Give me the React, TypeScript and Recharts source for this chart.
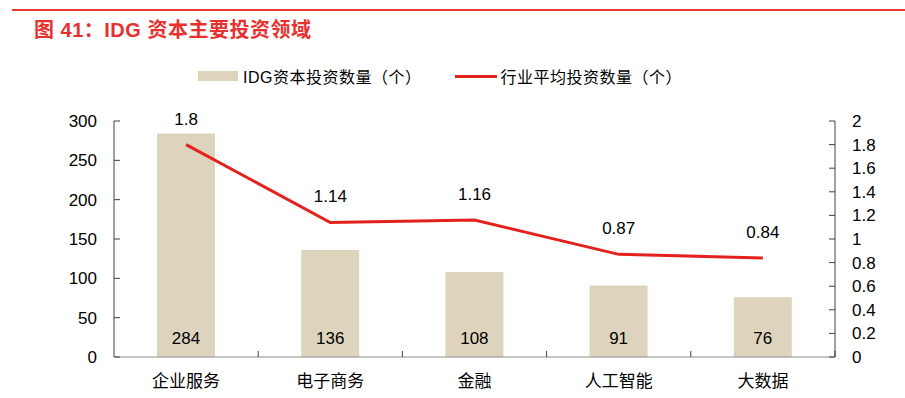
import { Bar, ComposedChart, LabelList, Line, XAxis, YAxis } from "recharts"

const categories = ["企业服务", "电子商务", "金融", "人工智能", "大数据"]
const idgCounts = [284, 136, 108, 91, 76]
const industryAvg = [1.8, 1.14, 1.16, 0.87, 0.84]
const leftTicks = [0, 50, 100, 150, 200, 250, 300]
const rightTicks = [0, 0.2, 0.4, 0.6, 0.8, 1, 1.2, 1.4, 1.6, 1.8, 2]

const data = categories.map((name, i) => ({
    name,
    idg: idgCounts[i],
    avg: industryAvg[i],
}))

const numFont = "'Liberation Sans', Arial, sans-serif"
const cjkFont = "'Liberation Sans', 'Noto Sans CJK SC', sans-serif"
const halfBand = (835 - 114) / categories.length / 2

function LeftTick(props: any) {
    const { x, y, payload } = props
    return (
        <g>
            <line x1={x} y1={y} x2={x + 6} y2={y} stroke="#404040" strokeWidth={1} />
            <text x={x - 17} y={y} dy={6} textAnchor="end" fontSize={17} fontFamily={numFont} fill="#000">
                {payload.value}
            </text>
        </g>
    )
}

function RightTick(props: any) {
    const { x, y, payload } = props
    return (
        <g>
            <line x1={x - 6} y1={y} x2={x} y2={y} stroke="#404040" strokeWidth={1} />
            <text x={x + 17} y={y} dy={6} textAnchor="start" fontSize={17} fontFamily={numFont} fill="#000">
                {payload.value}
            </text>
        </g>
    )
}

function CategoryTick(props: any) {
    const { x, y, payload } = props
    return (
        <g>
            <line x1={x + halfBand} y1={y} x2={x + halfBand} y2={y - 6} stroke="#404040" strokeWidth={1} />
            <text x={x} y={y + 30} textAnchor="middle" fontSize={17} fontFamily={cjkFont} fill="#000">
                {payload.value}
            </text>
        </g>
    )
}

export default function App() {
    return (
        <div style={{ position: "absolute", left: 0, top: 0, width: 905, height: 398, background: "#fff", fontFamily: cjkFont }}>
            <div style={{ position: "absolute", left: 12, top: 9, width: 893, height: 2, background: "#E53935" }} />
            <div
                style={{
                    position: "absolute",
                    left: 34,
                    top: 14,
                    fontSize: 20,
                    fontWeight: 700,
                    letterSpacing: 0.5,
                    color: "#E8312F",
                    fontFamily: cjkFont,
                    whiteSpace: "nowrap",
                }}
            >
                图 41：IDG 资本主要投资领域
            </div>
            <div style={{ position: "absolute", left: 198, top: 64, display: "flex", alignItems: "center", fontSize: 16, letterSpacing: 0.5, color: "#000", whiteSpace: "nowrap" }}>
                <span style={{ display: "inline-block", width: 40, height: 10, background: "#DED4BD", marginRight: 5 }} />
                <span>IDG资本投资数量（个）</span>
                <span style={{ display: "inline-block", width: 42, height: 3, background: "#E3221E", marginLeft: 34, marginRight: 3 }} />
                <span>行业平均投资数量（个）</span>
            </div>
            <ComposedChart width={905} height={398} data={data} margin={{ top: 121, right: 0, bottom: 0, left: 54 }} barCategoryGap={43}>
                <XAxis
                    dataKey="name"
                    height={41}
                    axisLine={{ stroke: "#8c8c8c" }}
                    tickLine={false}
                    tickSize={0}
                    tickMargin={0}
                    tick={<CategoryTick />}
                    interval={0}
                />
                <YAxis
                    yAxisId="left"
                    orientation="left"
                    width={60}
                    domain={[0, 300]}
                    ticks={leftTicks}
                    axisLine={{ stroke: "#404040" }}
                    tickLine={false}
                    tickSize={0}
                    tickMargin={0}
                    tick={<LeftTick />}
                    interval={0}
                />
                <YAxis
                    yAxisId="right"
                    orientation="right"
                    width={70}
                    domain={[0, 2]}
                    ticks={rightTicks}
                    axisLine={{ stroke: "#404040" }}
                    tickLine={false}
                    tickSize={0}
                    tickMargin={0}
                    tick={<RightTick />}
                    interval={0}
                />
                <Bar yAxisId="left" dataKey="idg" fill="#DED4BD" isAnimationActive={false}>
                    <LabelList dataKey="idg" position="insideBottom" offset={13} fontSize={17} fontFamily={numFont} fill="#000" />
                </Bar>
                <Line
                    yAxisId="right"
                    dataKey="avg"
                    type="linear"
                    stroke="#E3221E"
                    strokeWidth={3}
                    dot={false}
                    isAnimationActive={false}
                >
                    <LabelList dataKey="avg" position="top" offset={20} fontSize={17} fontFamily={numFont} fill="#000" />
                </Line>
            </ComposedChart>
        </div>
    )
}
